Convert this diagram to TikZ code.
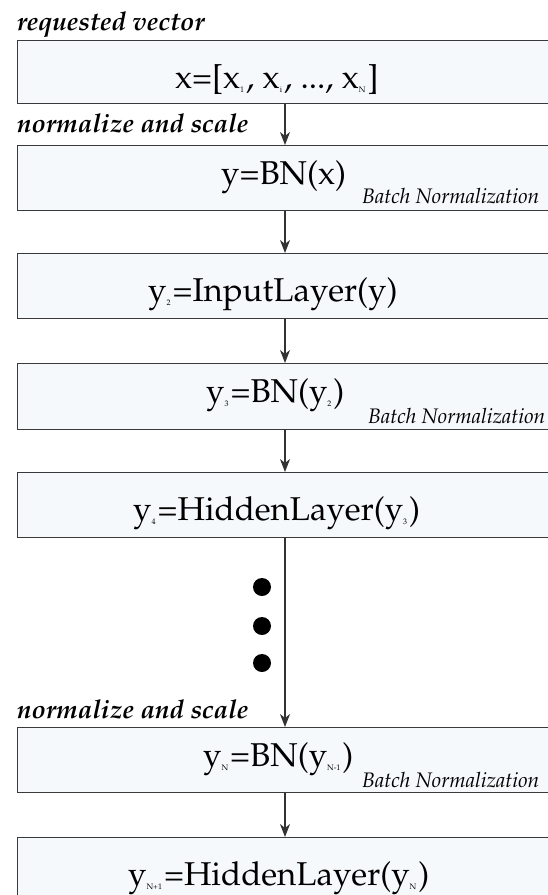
\documentclass[tikz,border=0pt]{standalone}
\usepackage[T1]{fontenc}
\usepackage{mathpazo}
\usetikzlibrary{arrows.meta}
\definecolor{boxfill}{HTML}{F6F9FB}
\definecolor{boxline}{HTML}{3A3A3A}
\newcommand\lsub[1]{\raisebox{-0.3ex}{\fontsize{8}{8}\selectfont #1}\hspace{2pt}}
\tikzset{
  layerbox/.style={draw=boxline, fill=boxfill, line width=1.4pt, minimum width=543pt, inner sep=0pt, anchor=north west},
  maintext/.style={font=\fontsize{33}{37}\selectfont, inner sep=0pt, anchor=base west},
  lbl/.style={font=\fontsize{26}{30}\selectfont\bfseries\itshape, inner sep=0pt, anchor=base west},
  bnl/.style={font=\fontsize{21}{25}\selectfont\itshape, inner sep=0pt, anchor=base west},
  flow/.style={line width=1.1pt, draw=black!80, -{Stealth[length=13pt,width=10pt,inset=4pt]}},
  dotmark/.style={circle, fill=black, inner sep=0pt, minimum size=18pt}
}
\begin{document}
\begin{tikzpicture}[x=1pt,y=-1pt]
\useasboundingbox (0,0) rectangle (548,895);
\clip (0,0) rectangle (548,895);
% boxes
\node[layerbox, minimum height=63pt] (b1) at (17,40) {};
\node[layerbox, minimum height=65pt] (b2) at (17,145) {};
\node[layerbox, minimum height=65pt] (b3) at (17,253) {};
\node[layerbox, minimum height=66pt] (b4) at (17,363) {};
\node[layerbox, minimum height=65pt] (b5) at (17,472) {};
\node[layerbox, minimum height=65pt] (b6) at (17,727) {};
\node[layerbox, minimum height=80pt] (b7) at (17,837) {};
% labels
\node[lbl] (l1) at (17,30) {requested vector};
\node[lbl] (l2) at (17,132) {normalize and scale};
\node[lbl] (l3) at (17,718) {normalize and scale};
% texts
\node[maintext] (t1) at (175,88) {x=[x\lsub{1}, x\lsub{i}, ..., x\lsub{N}]};
\node[maintext] (t2) at (221,184) {y=BN(x)};
\node[maintext] (t3) at (148,301) {y\lsub{2}=InputLayer(y)};
\node[maintext] (t4) at (206,402) {y\lsub{3}=BN(y\lsub{2})};
\node[maintext] (t5) at (133,520) {y\lsub{4}=HiddenLayer(y\lsub{3})};
\node[maintext] (t6) at (203,766) {y\lsub{N}=BN(y\lsub{N-1})};
\node[maintext] (t7) at (128,885) {y\lsub{N+1}=HiddenLayer(y\lsub{N})};
\node[bnl] (n2) at (362,203) {Batch Normalization};
\node[bnl] (n4) at (368,423) {Batch Normalization};
\node[bnl] (n6) at (362,787) {Batch Normalization};
% dots
\node[dotmark] (d1) at (262,587) {};
\node[dotmark] (d2) at (262,626) {};
\node[dotmark] (d3) at (262,663) {};
% connectors
\coordinate (ax) at (285,0);
\draw[flow] (b1.south -| ax) -- (b2.north -| ax);
\draw[flow] (b2.south -| ax) -- (b3.north -| ax);
\draw[flow] (b3.south -| ax) -- (b4.north -| ax);
\draw[flow] (b4.south -| ax) -- (b5.north -| ax);
\draw[flow] (b5.south -| ax) -- (b6.north -| ax);
\draw[flow] (b6.south -| ax) -- (b7.north -| ax);
\end{tikzpicture}
\end{document}
